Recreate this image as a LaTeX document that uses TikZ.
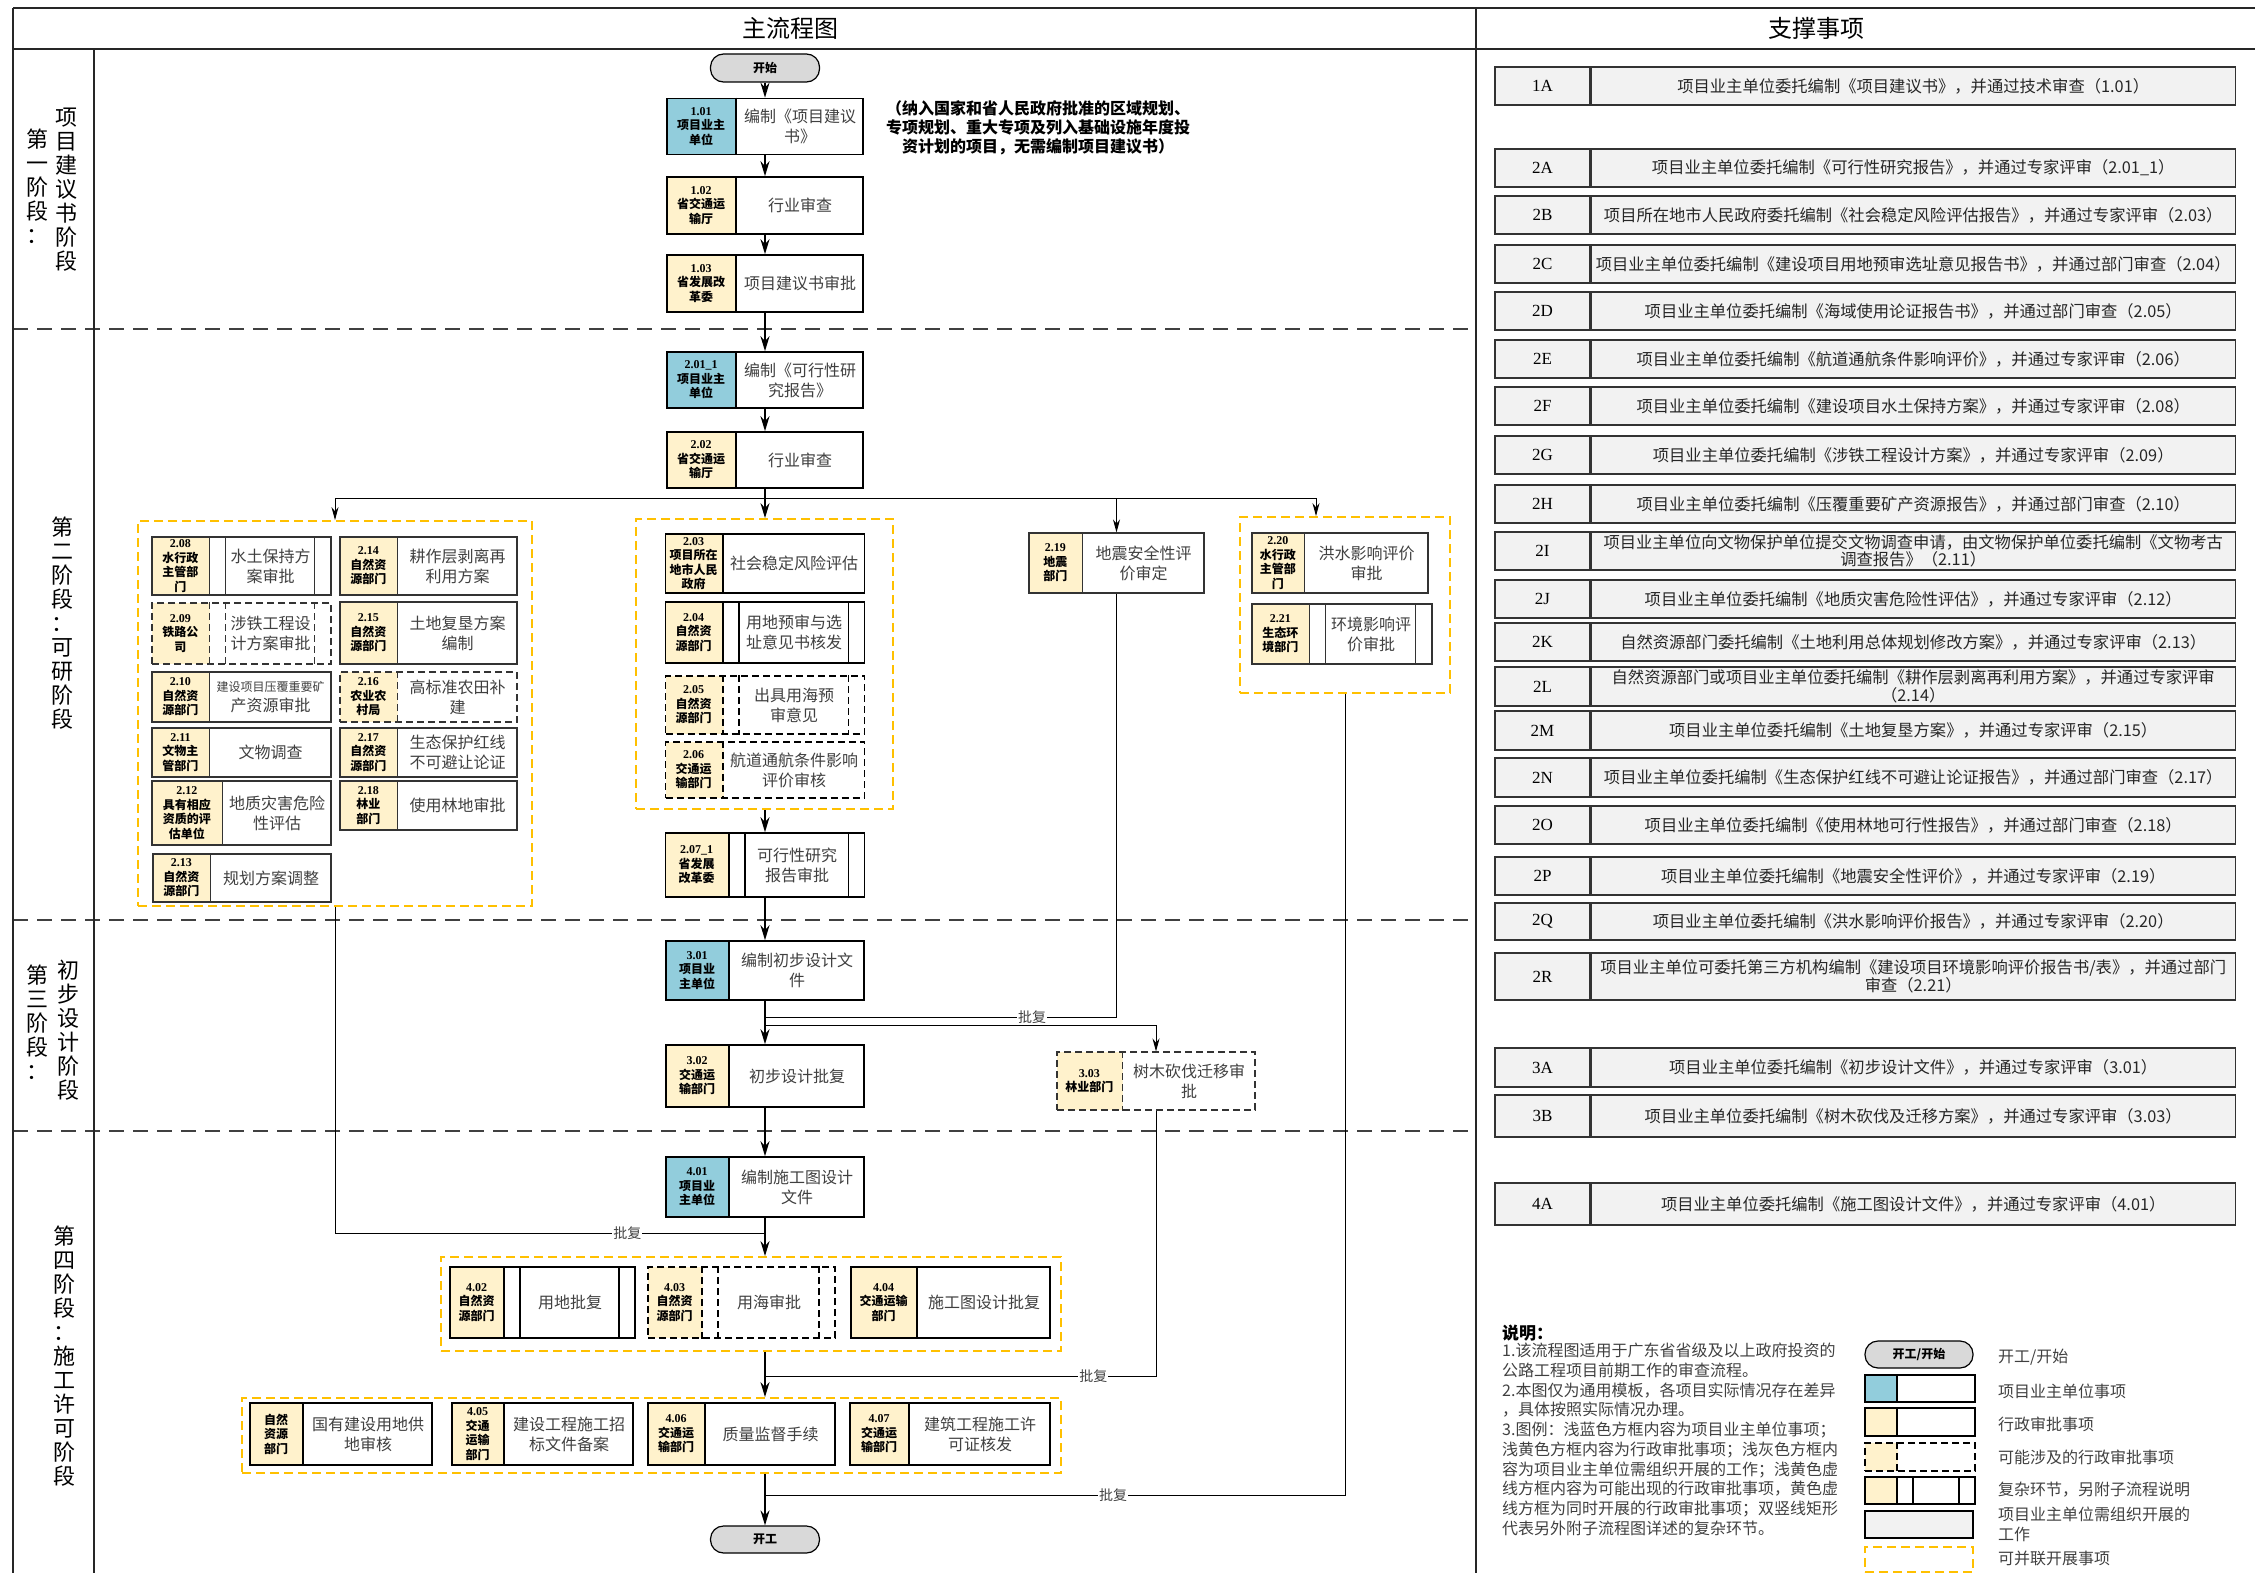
\documentclass[tikz,border=0pt]{standalone}
\usepackage{fontspec}
\usepackage{xcolor}
\usepackage{tikz}
\setmainfont{Noto Sans CJK SC}
\newfontfamily\lat{Liberation Serif}
\usetikzlibrary{arrows.meta,positioning}
\definecolor{ownerblue}{HTML}{92CDDC}
\definecolor{approvalyellow}{HTML}{FFF2CC}
\definecolor{supportgray}{HTML}{F2F2F2}
\definecolor{ovalgray}{HTML}{D9D9D9}
\definecolor{groupgold}{HTML}{FFC000}
\definecolor{inktext}{HTML}{404040}

\newcommand{\nm}[1]{{\lat\bfseries #1}}
% [line style] name, centre, width, height, dept width, dept colour, dept, text
\newcommand{\proc}[9][]{%
  \node[procbox, #1, minimum width=#4, minimum height=#5,
        path picture={\fill[#7] (path picture bounding box.north west)
                      rectangle ([xshift=#6]path picture bounding box.south west);}]
        (#2) at #3 {};
  \draw[procbox, #1] ([xshift=#6]#2.north west) -- ([xshift=#6]#2.south west);
  \node[dept] at ([xshift=#6/2]#2.west) {#8};
  \node[proctext] at ([xshift=#6/2]#2.center) {#9};
}
% double side lines of a complex step
\newcommand{\cplx}[3][]{%
  \draw[procbox, #1] ([xshift=#3+16]#2.north west) -- ([xshift=#3+16]#2.south west)
                     ([xshift=-17]#2.north east) -- ([xshift=-17]#2.south east);
}

\begin{document}
\begin{tikzpicture}[x=1pt, y=-1pt,
    framerule/.style={line width=1.5pt, draw=black!85},
    stageline/.style={line width=1.4pt, draw=black!75, dash pattern=on 15pt off 9pt},
    procbox/.style={draw, fill=white, line width=1.6pt, inner sep=0pt},
    lite/.style={line width=1.1pt, draw=black!80},
    maybe/.style={dash pattern=on 7pt off 4pt},
    dept/.style={font=\fontsize{12}{14.5}\selectfont\bfseries, align=center, inner sep=0pt},
    proctext/.style={font=\fontsize{16}{20}\selectfont, text=inktext, align=center, inner sep=0pt},
    grp/.style={draw=groupgold, line width=1.8pt, dash pattern=on 9pt off 5pt, inner sep=0pt},
    oval/.style={draw, fill=ovalgray, rounded corners=13pt, line width=1.2pt, font=\fontsize{12}{12}\selectfont\bfseries, inner sep=0pt},
    flow/.style={line width=1.8pt, -{Stealth[length=15pt, width=9pt]}},
    flowline/.style={line width=1.8pt},
    side/.style={line width=1pt, -{Stealth[length=13pt, width=7pt]}},
    sideline/.style={line width=1pt},
    lab/.style={fill=white, inner sep=1pt, text=inktext, font=\fontsize{14}{14}\selectfont},
    headtext/.style={font=\fontsize{24}{24}\selectfont, inner sep=0pt},
    stagetext/.style={font=\fontsize{22}{24}\selectfont, align=center, inner sep=0pt},
    notetext/.style={font=\fontsize{16}{19}\selectfont\bfseries, align=center, inner sep=0pt},
    supcode/.style={draw=black!80, fill=supportgray, line width=1.2pt, minimum width=95, inner sep=0pt, font=\lat\fontsize{17}{17}\selectfont},
    suptext/.style={draw=black!80, fill=supportgray, line width=1.2pt, minimum width=644, inner sep=0pt, align=center, text=black!85, font=\fontsize{16.3}{17.5}\selectfont},
    legendtext/.style={font=\fontsize{16}{19.7}\selectfont, text=inktext, align=left, inner sep=0pt},
]
\useasboundingbox (0,0) rectangle (2255,1573);

% frame and stage lines
\foreach \y in {329,920,1131}
  \draw[stageline] (13,\y) -- (1476,\y);
\draw[framerule] (13,8) -- (2255,8);
\draw[framerule] (13,49) -- (2255,49);
\draw[framerule] (13,8) -- (13,1573);
\draw[framerule] (94,49) -- (94,1573);
\draw[framerule] (1476,8) -- (1476,1573);

\node[headtext] (hmain) at (790,28) {主流程图};
\node[headtext] (hside) at (1816,28) {支撑事项};

% stage labels
\node[stagetext] (st1a) at (38,186) {第\\一\\阶\\段\\：};
\node[stagetext] (st1b) at (66,190) {项\\目\\建\\议\\书\\阶\\段};
\node[stagetext] (st2) at (62,623) {第\\二\\阶\\段\\：\\可\\研\\阶\\段};
\node[stagetext] (st3a) at (38,1022) {第\\三\\阶\\段\\：};
\node[stagetext] (st3b) at (68,1030) {初\\步\\设\\计\\阶\\段};
\node[stagetext] (st4) at (64,1356) {第\\四\\阶\\段\\：\\施\\工\\许\\可\\阶\\段};

% parallel groups
\node[grp, minimum width=394, minimum height=385] (gleft) at (335,713.5) {};
\node[grp, minimum width=257, minimum height=290] (gmid) at (764.5,664) {};
\node[grp, minimum width=210, minimum height=176] (g2r) at (1345,605) {};
\node[grp, minimum width=620, minimum height=94] (g4a) at (751,1304) {};
\node[grp, minimum width=819, minimum height=75] (g4b) at (651.5,1435.5) {};

% stage 1
\node[oval, minimum width=109, minimum height=28] (start) at (765,68) {开始};
\proc{b101}{(765,126.5)}{196}{56}{70}{ownerblue}{\nm{1.01}\\项目业主\\单位}{编制《项目建议\\书》}
\proc{b102}{(765,205.5)}{196}{57}{70}{approvalyellow}{\nm{1.02}\\省交通运\\输厅}{行业审查}
\proc{b103}{(765,283.5)}{196}{57}{70}{approvalyellow}{\nm{1.03}\\省发展改\\革委}{项目建议书审批}
\node[notetext] (note1) at (1038,128) {（纳入国家和省人民政府批准的区域规划、\\专项规划、重大专项及列入基础设施年度投\\资计划的项目，无需编制项目建议书）};

% stage 2
\proc{b201}{(765,380)}{196}{56}{70}{ownerblue}{\nm{2.01\_1}\\项目业主\\单位}{编制《可行性研\\究报告》}
\proc{b202}{(765,460)}{196}{56}{70}{approvalyellow}{\nm{2.02}\\省交通运\\输厅}{行业审查}

\proc{b203}{(765,563.5)}{199}{59}{58}{approvalyellow}{\nm{2.03}\\项目所在\\地市人民\\政府}{社会稳定风险评估}
\proc{b204}{(765,632.5)}{199}{61}{58}{approvalyellow}{\nm{2.04}\\自然资\\源部门}{用地预审与选\\址意见书核发}
\cplx{b204}{58}
\proc[maybe]{b205}{(765,705)}{199}{58}{58}{approvalyellow}{\nm{2.05}\\自然资\\源部门}{出具用海预\\审意见}
\cplx[maybe]{b205}{58}
\proc[maybe]{b206}{(765,770)}{199}{56}{58}{approvalyellow}{\nm{2.06}\\交通运\\输部门}{航道通航条件影响\\评价审核}
\proc{b207}{(765,865)}{199}{64}{64}{approvalyellow}{\nm{2.07\_1}\\省发展\\改革委}{可行性研究\\报告审批}
\cplx{b207}{64}

\proc[lite]{b208}{(241.5,566)}{179}{58}{58}{approvalyellow}{\nm{2.08}\\水行政\\主管部\\门}{水土保持方\\案审批}
\cplx[lite]{b208}{58}
\proc[lite,maybe]{b209}{(241.5,633.5)}{179}{61}{58}{approvalyellow}{\nm{2.09}\\铁路公\\司}{涉铁工程设\\计方案审批}
\cplx[lite,maybe]{b209}{58}
\proc[lite]{b210}{(241.5,697)}{179}{50}{58}{approvalyellow}{\nm{2.10}\\自然资\\源部门}{\fontsize{12}{17}\selectfont 建设项目压覆重要矿\\产资源审批}
\proc[lite]{b211}{(241.5,752.5)}{179}{49}{58}{approvalyellow}{\nm{2.11}\\文物主\\管部门}{文物调查}
\proc[lite]{b212}{(241.5,813)}{179}{64}{71}{approvalyellow}{\nm{2.12}\\具有相应\\资质的评\\估单位}{地质灾害危险\\性评估}
\proc[lite]{b213}{(242,878)}{178}{48}{58}{approvalyellow}{\nm{2.13}\\自然资\\源部门}{规划方案调整}
\proc[lite]{b214}{(428.5,566)}{177}{58}{58}{approvalyellow}{\nm{2.14}\\自然资\\源部门}{耕作层剥离再\\利用方案}
\proc[lite]{b215}{(428.5,633)}{177}{62}{58}{approvalyellow}{\nm{2.15}\\自然资\\源部门}{土地复垦方案\\编制}
\proc[lite,maybe]{b216}{(428.5,697)}{177}{50}{58}{approvalyellow}{\nm{2.16}\\农业农\\村局}{高标准农田补\\建}
\proc[lite]{b217}{(428.5,752.5)}{177}{49}{58}{approvalyellow}{\nm{2.17}\\自然资\\源部门}{生态保护红线\\不可避让论证}
\proc[lite]{b218}{(428.5,805.5)}{177}{49}{58}{approvalyellow}{\nm{2.18}\\林业\\部门}{使用林地审批}

\proc[lite]{b219}{(1116.5,563)}{175}{60}{54}{approvalyellow}{\nm{2.19}\\地震\\部门}{地震安全性评\\价审定}
\proc[lite]{b220}{(1340,563)}{176}{60}{53}{approvalyellow}{\nm{2.20}\\水行政\\主管部\\门}{洪水影响评价\\审批}
\proc[lite]{b221}{(1342,634)}{180}{60}{58}{approvalyellow}{\nm{2.21}\\生态环\\境部门}{环境影响评\\价审批}
\cplx[lite]{b221}{58}

% stage 3
\proc{b301}{(765,970.5)}{198}{59}{64}{ownerblue}{\nm{3.01}\\项目业\\主单位}{编制初步设计文\\件}
\proc{b302}{(765,1076)}{198}{62}{64}{approvalyellow}{\nm{3.02}\\交通运\\输部门}{初步设计批复}
\proc[lite,maybe]{b303}{(1156,1081)}{198}{58}{66}{approvalyellow}{\nm{3.03}\\林业部门}{树木砍伐迁移审\\批}

% stage 4
\proc{b401}{(765,1187)}{198}{60}{64}{ownerblue}{\nm{4.01}\\项目业\\主单位}{编制施工图设计\\文件}
\proc{b402}{(542.5,1302.5)}{185}{71}{55}{approvalyellow}{\nm{4.02}\\自然资\\源部门}{用地批复}
\cplx{b402}{55}
\proc[maybe]{b403}{(741.5,1302.5)}{187}{71}{55}{approvalyellow}{\nm{4.03}\\自然资\\源部门}{用海审批}
\cplx[maybe]{b403}{55}
\proc{b404}{(950.5,1302.5)}{199}{71}{67}{approvalyellow}{\nm{4.04}\\交通运输\\部门}{施工图设计批复}
\proc{b405a}{(341,1434)}{182}{62}{54}{approvalyellow}{自然\\资源\\部门}{国有建设用地供\\地审核}
\proc{b405}{(542.5,1434)}{181}{62}{53}{approvalyellow}{\nm{4.05}\\交通\\运输\\部门}{建设工程施工招\\标文件备案}
\proc{b406}{(741.5,1434)}{187}{62}{58}{approvalyellow}{\nm{4.06}\\交通运\\输部门}{质量监督手续}
\proc{b407}{(950,1434)}{200}{62}{60}{approvalyellow}{\nm{4.07}\\交通运\\输部门}{建筑工程施工许\\可证核发}
\node[oval, minimum width=109, minimum height=27] (finish) at (765,1539.5) {开工};

% connectors
\coordinate (split2) at (765,498);
\coordinate (join219) at (765,1017);
\coordinate (fork303) at (765,1025);
\coordinate (joinleft) at (765,1233);
\coordinate (join303) at (765,1376);
\coordinate (join220) at (765,1495);

\draw[flow] (start) -- (b101);
\draw[flow] (b101) -- (b102);
\draw[flow] (b102) -- (b103);
\draw[flow] (b103) -- (b201);
\draw[flow] (b201) -- (b202);
\draw[flowline] (b202) -- (split2);
\draw[flow] (split2) -- (split2 |- gmid.north);
\draw[side] (split2) -| (gleft.north);
\draw[side] (split2) -| (b219.north);
\draw[side] (split2) -| ([xshift=-29pt]g2r.north);
\draw[flow] (split2 |- gmid.south) -- (b207.north);
\draw[flow] (b207) -- (b301);
\draw[flow] (b301) -- (b302);
\draw[sideline] (b219.south) |- node[lab, pos=0.62] {批复} (join219);
\draw[side] (fork303) -| (b303.north);
\draw[flow] (b302) -- (b401);
\draw[flow] (b401.south) -- (b401.south |- g4a.north);
\draw[sideline] (gleft.south) |- node[lab, pos=0.84] {批复} (joinleft);
\draw[flow] (b401.south |- g4a.south) -- (b401.south |- g4b.north);
\draw[sideline] (b303.south) |- node[lab, pos=0.58] {批复} (join303);
\draw[flow] (b401.south |- g4b.south) -- (finish);
\draw[sideline] (g2r.south) |- node[lab, pos=0.70] {批复} (join220);

% support items
\foreach \code/\ya/\yb/\desc in {
  1A/67/105/{项目业主单位委托编制《项目建议书》，并通过技术审查（1.01）},
  2A/149/187/{项目业主单位委托编制《可行性研究报告》，并通过专家评审（2.01\_1）},
  2B/196/234/{项目所在地市人民政府委托编制《社会稳定风险评估报告》，并通过专家评审（2.03）},
  2C/245/283/{项目业主单位委托编制《建设项目用地预审选址意见报告书》，并通过部门审查（2.04）},
  2D/292/330/{项目业主单位委托编制《海域使用论证报告书》，并通过部门审查（2.05）},
  2E/340/378/{项目业主单位委托编制《航道通航条件影响评价》，并通过专家评审（2.06）},
  2F/387/425/{项目业主单位委托编制《建设项目水土保持方案》，并通过专家评审（2.08）},
  2G/436/474/{项目业主单位委托编制《涉铁工程设计方案》，并通过专家评审（2.09）},
  2H/485/523/{项目业主单位委托编制《压覆重要矿产资源报告》，并通过部门审查（2.10）},
  2I/532/570/{项目业主单位向文物保护单位提交文物调查申请，由文物保护单位委托编制《文物考古\\调查报告》（2.11）},
  2J/580/618/{项目业主单位委托编制《地质灾害危险性评估》，并通过专家评审（2.12）},
  2K/623/661/{自然资源部门委托编制《土地利用总体规划修改方案》，并通过专家评审（2.13）},
  2L/667/706/{自然资源部门或项目业主单位委托编制《耕作层剥离再利用方案》，并通过专家评审\\（2.14）},
  2M/711/750/{项目业主单位委托编制《土地复垦方案》，并通过专家评审（2.15）},
  2N/758/797/{项目业主单位委托编制《生态保护红线不可避让论证报告》，并通过部门审查（2.17）},
  2O/806/844/{项目业主单位委托编制《使用林地可行性报告》，并通过部门审查（2.18）},
  2P/857/895/{项目业主单位委托编制《地震安全性评价》，并通过专家评审（2.19）},
  2Q/903/940/{项目业主单位委托编制《洪水影响评价报告》，并通过专家评审（2.20）},
  2R/953/1000/{项目业主单位可委托第三方机构编制《建设项目环境影响评价报告书/表》，并通过部门\\审查（2.21）},
  3A/1048/1087/{项目业主单位委托编制《初步设计文件》，并通过专家评审（3.01）},
  3B/1095/1137/{项目业主单位委托编制《树木砍伐及迁移方案》，并通过专家评审（3.03）},
  4A/1183/1225/{项目业主单位委托编制《施工图设计文件》，并通过专家评审（4.01）}}{
  \node[supcode, minimum height={\yb-\ya}] (s\code) at (1542.5,{(\ya+\yb)/2}) {\code};
  \node[suptext, minimum height={\yb-\ya}, right=0pt of s\code] (d\code) {\desc};
}

% legend
\node[font=\fontsize{17}{17}\selectfont\bfseries, anchor=west, inner sep=0pt] (notehead) at (1502,1333) {说明：};
\node[legendtext, anchor=north west] (notes) at (1502,1343) {1.该流程图适用于广东省省级及以上政府投资的\\公路工程项目前期工作的审查流程。\\2.本图仅为通用模板，各项目实际情况存在差异\\，具体按照实际情况办理。\\3.图例：浅蓝色方框内容为项目业主单位事项；\\浅黄色方框内容为行政审批事项；浅灰色方框内\\容为项目业主单位需组织开展的工作；浅黄色虚\\线方框内容为可能出现的行政审批事项，黄色虚\\线方框为同时开展的行政审批事项；双竖线矩形\\代表另外附子流程图详述的复杂环节。};

\node[oval, minimum width=108, minimum height=27] (lgstart) at (1919,1354.5) {开工/开始};
\proc{lgowner}{(1920,1388.5)}{110}{27}{33}{ownerblue}{}{}
\proc{lgadmin}{(1920,1422)}{110}{28}{33}{approvalyellow}{}{}
\proc[maybe]{lgmaybe}{(1920,1457)}{110}{28}{33}{approvalyellow}{}{}
\proc{lgcplx}{(1920,1490.5)}{110}{27}{33}{approvalyellow}{}{}
\cplx{lgcplx}{33}
\node[procbox, fill=supportgray, line width=1.3pt, minimum width=108, minimum height=27] (lgwork) at (1919,1524.5) {};
\node[grp, minimum width=108, minimum height=25] (lggroup) at (1919,1559.5) {};

\foreach \ly/\ltext in {1357/{开工/开始}, 1391/项目业主单位事项, 1424/行政审批事项, 1457/可能涉及的行政审批事项, 1490/{复杂环节，另附子流程说明}, 1524/{项目业主单位需组织开展的\\工作}, 1558/可并联开展事项}
  \node[legendtext, anchor=west] at (1998,\ly) {\ltext};
\end{tikzpicture}
\end{document}
